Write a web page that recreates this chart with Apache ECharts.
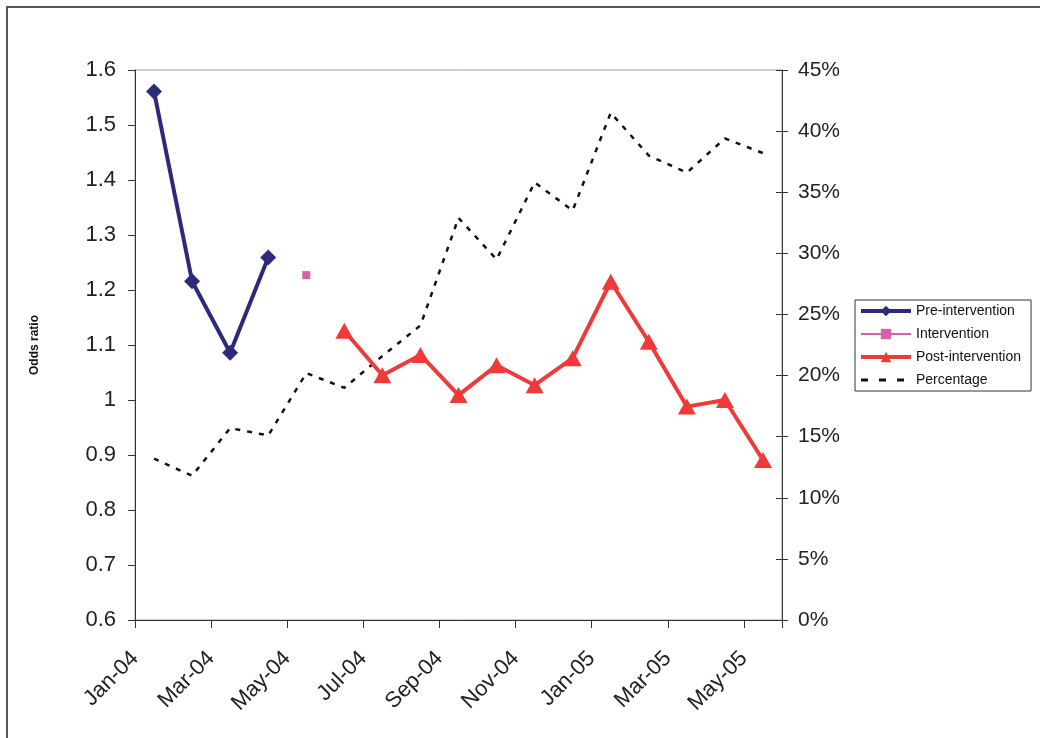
<!DOCTYPE html>
<html>
<head>
<meta charset="utf-8">
<script src="https://cdn.jsdelivr.net/npm/echarts@6/dist/echarts.min.js"></script>
<style>
  html, body { margin: 0; padding: 0; background: #fff; }
  #chart { width: 1040px; height: 738px; }
</style>
</head>
<body>
<div id="chart"></div>
<script>
// months on the x axis, one value per month
const months = ['Jan-04', 'Feb-04', 'Mar-04', 'Apr-04', 'May-04', 'Jun-04', 'Jul-04', 'Aug-04', 'Sep-04',
  'Oct-04', 'Nov-04', 'Dec-04', 'Jan-05', 'Feb-05', 'Mar-05', 'Apr-05', 'May-05']

const preIntervention = [1.561, 1.216, 1.086, 1.259, null, null, null, null, null,
  null, null, null, null, null, null, null, null]
const intervention = [null, null, null, null, 1.227, null, null, null, null,
  null, null, null, null, null, null, null, null]
const postIntervention = [null, null, null, null, null, 1.126, 1.045, 1.082, 1.009,
  1.063, 1.027, 1.076, 1.215, 1.106, 0.988, 1.0, 0.891]
const percentage = [13.2, 11.8, 15.7, 15.1, 20.2, 19.0, 21.6, 24.1, 32.9,
  29.5, 35.8, 33.5, 41.5, 38.0, 36.6, 39.4, 38.2]

const FONT = 'Liberation Sans, Arial, sans-serif'

// month i sits in the middle of its band [i, i+1]
const toPoints = (arr) => arr.map((v, i) => [i + 0.5, v])

const chart = echarts.init(document.getElementById('chart'))

const option = {
  backgroundColor: '#fff',
  animation: false,
  textStyle: { fontFamily: FONT },
  graphic: [{
    type: 'rect',
    shape: { x: 7, y: 7, width: 1100, height: 800 },
    style: { fill: 'none', stroke: '#555', lineWidth: 2 },
    silent: true
  }],
  grid: {
    left: 135, right: 258, top: 70, bottom: 118,
    show: true, borderColor: '#a0a0a0', borderWidth: 1
  },
  legend: {
    orient: 'vertical',
    left: 855, top: 300,
    padding: [4, 10, 4, 4],
    itemWidth: 50, itemHeight: 13, itemGap: 9,
    borderColor: '#333', borderWidth: 1,
    textStyle: { fontFamily: FONT, fontSize: 14, color: '#111' },
    data: [
      { name: 'Pre-intervention', lineStyle: { width: 4 } },
      { name: 'Intervention', lineStyle: { width: 2 } },
      { name: 'Post-intervention', lineStyle: { width: 4 } },
      { name: 'Percentage', lineStyle: { width: 3, type: [7, 11] }, itemStyle: { opacity: 0 } }
    ]
  },
  xAxis: {
    type: 'value',
    min: 0, max: months.length, interval: 2,
    splitLine: { show: false },
    axisLine: { lineStyle: { color: '#333', width: 1 } },
    axisTick: { show: true, length: 8, lineStyle: { color: '#333' } },
    axisLabel: {
      rotate: 45, margin: 35, padding: [28, 0, 0, 0],
      fontSize: 22, color: '#222', fontFamily: FONT,
      formatter: (v) => (Number.isInteger(v) && v % 2 === 0 && v < months.length) ? months[v] : ''
    }
  },
  yAxis: [{
    type: 'value',
    min: 0.6, max: 1.6, interval: 0.1,
    name: 'Odds ratio', nameLocation: 'middle', nameGap: 94,
    nameTextStyle: { fontFamily: FONT, fontSize: 12, fontWeight: 'bold', color: '#111' },
    splitLine: { show: false },
    axisLine: { show: true, lineStyle: { color: '#333' } },
    axisTick: { show: true, length: 7, lineStyle: { color: '#333' } },
    axisLabel: {
      margin: 19, fontSize: 22, color: '#222', fontFamily: FONT,
      formatter: (v) => String(parseFloat(v.toFixed(1)))
    }
  }, {
    type: 'value',
    position: 'right',
    min: 0, max: 45, interval: 5,
    splitLine: { show: false },
    axisLine: { show: true, lineStyle: { color: '#333' } },
    axisTick: { show: true, length: 6, lineStyle: { color: '#333' } },
    axisLabel: {
      margin: 16, fontSize: 21, color: '#222', fontFamily: FONT,
      formatter: '{value}%'
    }
  }, {
    // inner half of the crossing ticks on the right axis
    type: 'value',
    position: 'right',
    min: 0, max: 45, interval: 5,
    splitLine: { show: false },
    axisLine: { show: false },
    axisTick: { show: true, inside: true, length: 6, lineStyle: { color: '#333' } },
    axisLabel: { show: false }
  }],
  series: [{
    name: 'Pre-intervention',
    type: 'line',
    data: toPoints(preIntervention),
    symbol: 'diamond', symbolSize: 16,
    color: '#2e2a7a',
    lineStyle: { width: 4, color: '#2e2a7a' },
    itemStyle: { color: '#2e2a7a' },
    z: 4
  }, {
    name: 'Intervention',
    type: 'line',
    data: toPoints(intervention),
    symbol: 'rect', symbolSize: 8,
    color: '#d660ab',
    lineStyle: { width: 1.5, color: '#d660ab' },
    itemStyle: { color: '#d660ab' },
    z: 4
  }, {
    name: 'Post-intervention',
    type: 'line',
    data: toPoints(postIntervention),
    symbol: 'triangle', symbolSize: [18, 16],
    color: '#ef3a3a',
    lineStyle: { width: 4, color: '#ef3a3a' },
    itemStyle: { color: '#ef3a3a' },
    z: 4
  }, {
    name: 'Percentage',
    type: 'line',
    yAxisIndex: 1,
    data: toPoints(percentage),
    symbol: 'none',
    color: '#111',
    lineStyle: { width: 2.5, color: '#111', type: [5, 7] },
    z: 3
  }]
}

chart.setOption(option)
</script>
</body>
</html>
